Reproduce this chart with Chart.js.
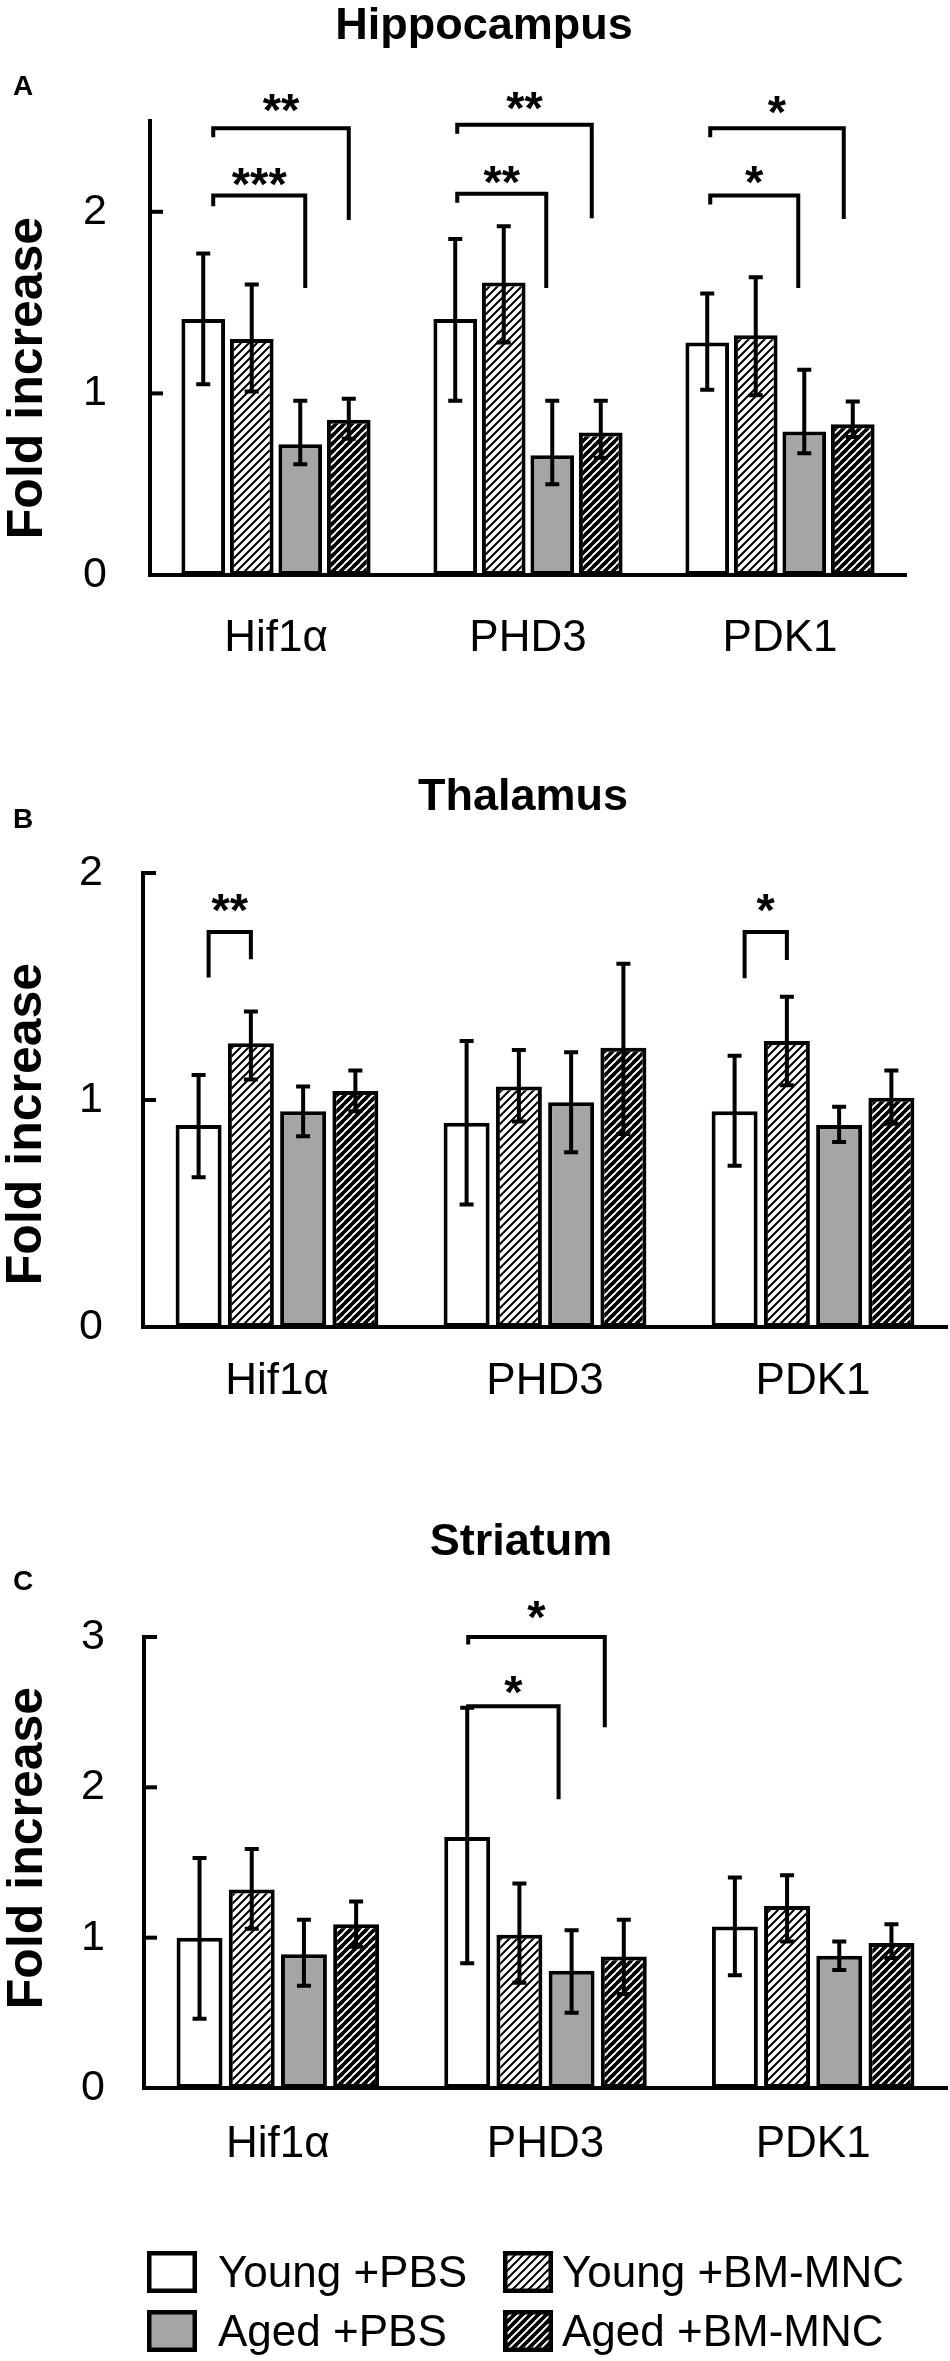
<!DOCTYPE html>
<html>
<head>
<meta charset="utf-8">
<script src="https://cdn.jsdelivr.net/npm/chart.js@4.4.1/dist/chart.umd.min.js"></script>
<style>
html,body{margin:0;padding:0;background:#fff;}
#page{position:relative;width:950px;height:2361px;overflow:hidden;font-family:"Liberation Sans",Arial,sans-serif;color:#000;background:#fff;}
#page canvas.panel{position:absolute;left:0;top:0;}
.txt{position:absolute;white-space:nowrap;line-height:1;}
.sw{position:absolute;}
</style>
</head>
<body>
<div id="page">
  <canvas class="panel" id="cA" width="950" height="2361"></canvas>
  <canvas class="panel" id="cB" width="950" height="2361"></canvas>
  <canvas class="panel" id="cC" width="950" height="2361"></canvas>
</div>
<script>
// ---------------- DATA ----------------
const categories = ['Hif1α', 'PHD3', 'PDK1'];
const groups = ['Young +PBS', 'Young +BM-MNC', 'Aged +PBS', 'Aged +BM-MNC'];

// Hippocampus (A)
const hipYoungPBS = [1.41, 1.41, 1.28];
const hipYoungBM  = [1.30, 1.61, 1.32];
const hipAgedPBS  = [0.72, 0.66, 0.79];
const hipAgedBM   = [0.855, 0.785, 0.83];
const hipYoungPBSErr = [[1.05, 1.77], [0.96, 1.85], [1.02, 1.55]];
const hipYoungBMErr  = [[1.01, 1.60], [1.28, 1.92], [0.99, 1.64]];
const hipAgedPBSErr  = [[0.61, 0.96], [0.50, 0.96], [0.67, 1.13]];
const hipAgedBMErr   = [[0.75, 0.97], [0.645, 0.96], [0.76, 0.955]];
const hipTicks = [0, 1, 2];
const hipMax = 2.5;

// Thalamus (B)
const thaYoungPBS = [0.89, 0.90, 0.95];
const thaYoungBM  = [1.25, 1.06, 1.26];
const thaAgedPBS  = [0.95, 0.99, 0.89];
const thaAgedBM   = [1.04, 1.23, 1.01];
const thaYoungPBSErr = [[0.66, 1.11], [0.54, 1.26], [0.71, 1.195]];
const thaYoungBMErr  = [[1.09, 1.39], [0.905, 1.22], [1.065, 1.455]];
const thaAgedPBSErr  = [[0.84, 1.06], [0.77, 1.21], [0.815, 0.97]];
const thaAgedBMErr   = [[0.95, 1.13], [0.85, 1.60], [0.895, 1.13]];
const thaTicks = [0, 1, 2];
const thaMax = 2;

// Striatum (C)
const strYoungPBS = [1.00, 1.67, 1.075];
const strYoungBM  = [1.32, 1.02, 1.21];
const strAgedPBS  = [0.89, 0.78, 0.88];
const strAgedBM   = [1.09, 0.875, 0.965];
const strYoungPBSErr = [[0.46, 1.53], [0.83, 2.53], [0.75, 1.40]];
const strYoungBMErr  = [[1.06, 1.59], [0.70, 1.36], [0.975, 1.415]];
const strAgedPBSErr  = [[0.68, 1.12], [0.50, 1.05], [0.785, 0.975]];
const strAgedBMErr   = [[0.94, 1.24], [0.625, 1.12], [0.865, 1.09]];
const strTicks = [0, 1, 2, 3];
const strMax = 3;

// significance brackets: category, bar from/to, heights (data units), label
const hipBrackets = [
  {cat:0, from:0, to:2, top:2.09, left:2.03, right:1.58, text:'***', textY:2.19, dxL:10, dxR:5},
  {cat:0, from:0, to:3, top:2.46, left:2.41, right:1.955, text:'**', textY:2.60, dxL:10, dxR:0},
  {cat:1, from:0, to:2, top:2.10, left:2.05, right:1.58, text:'**', textY:2.20, dxL:2, dxR:-6},
  {cat:1, from:0, to:3, top:2.48, left:2.43, right:1.965, text:'**', textY:2.61, dxL:2, dxR:-9},
  {cat:2, from:0, to:2, top:2.09, left:2.04, right:1.58, text:'*', textY:2.20, dxL:3, dxR:-6},
  {cat:2, from:0, to:3, top:2.46, left:2.41, right:1.96, text:'*', textY:2.59, dxL:3, dxR:-9}
];
const thaBrackets = [
  {cat:0, from:0, to:1, top:1.74, left:1.54, right:1.62, text:'**', textY:1.87, dxL:10, dxR:0},
  {cat:2, from:0, to:1, top:1.74, left:1.536, right:1.617, text:'*', textY:1.87, dxL:10, dxR:0}
];
const strBrackets = [
  {cat:1, from:0, to:2, top:2.54, left:2.52, right:1.92, text:'*', textY:2.68, dxL:1, dxR:-13},
  {cat:1, from:0, to:3, top:3.0, left:2.95, right:2.40, text:'*', textY:3.18, dxL:1, dxR:-19}
];

// ---------------- STYLE ----------------
const FONT = '"Liberation Sans", Arial, sans-serif';
Chart.defaults.font.family = FONT;
Chart.defaults.color = '#000';
const GRAY = '#a5a5a5';
const LINE = 4;

function hatchCanvas(lw) {
  const c = document.createElement('canvas');
  c.width = 8; c.height = 8;
  const g = c.getContext('2d');
  g.fillStyle = '#fff'; g.fillRect(0, 0, 8, 8);
  g.strokeStyle = '#000'; g.lineWidth = lw;
  g.beginPath();
  g.moveTo(-1, 1); g.lineTo(1, -1);
  g.moveTo(-1, 9); g.lineTo(9, -1);
  g.moveTo(7, 9); g.lineTo(9, 7);
  g.stroke();
  return c;
}
const LIGHT_LW = 2.0, DARK_LW = 3.8;
const pctx = document.createElement('canvas').getContext('2d');
const lightHatch = pctx.createPattern(hatchCanvas(LIGHT_LW), 'repeat');
const darkHatch = pctx.createPattern(hatchCanvas(DARK_LW), 'repeat');
const fills = ['#ffffff', lightHatch, GRAY, darkHatch];

function makeDecor(ticks, brackets) {
  return {
    id: 'decor',
    afterDatasetsDraw(chart) {
      const ctx = chart.ctx, y = chart.scales.y, area = chart.chartArea;
      ctx.save();
      ctx.strokeStyle = '#000'; ctx.fillStyle = '#000'; ctx.lineCap = 'butt';
      ctx.lineWidth = LINE;
      ticks.forEach(v => {
        if (v === 0) return;
        const py = y.getPixelForValue(v);
        ctx.beginPath(); ctx.moveTo(area.left, py); ctx.lineTo(area.left + 13, py); ctx.stroke();
      });
      chart.data.datasets.forEach((ds, di) => {
        const meta = chart.getDatasetMeta(di);
        meta.data.forEach((bar, j) => {
          const e = ds.errBars[j];
          const x = bar.x, yl = y.getPixelForValue(e[0]), yh = y.getPixelForValue(e[1]);
          ctx.lineWidth = LINE;
          ctx.beginPath(); ctx.moveTo(x, yl); ctx.lineTo(x, yh); ctx.stroke();
          ctx.beginPath();
          ctx.moveTo(x - 7, yl); ctx.lineTo(x + 7, yl);
          ctx.moveTo(x - 7, yh); ctx.lineTo(x + 7, yh);
          ctx.stroke();
        });
      });
      brackets.forEach(b => {
        const m0 = chart.getDatasetMeta(b.from).data[b.cat];
        const m1 = chart.getDatasetMeta(b.to).data[b.cat];
        const xl = m0.x + b.dxL, xr = m1.x + b.dxR;
        const yt = y.getPixelForValue(b.top);
        ctx.lineWidth = LINE; ctx.lineJoin = 'miter';
        ctx.beginPath();
        ctx.moveTo(xl, y.getPixelForValue(b.left));
        ctx.lineTo(xl, yt); ctx.lineTo(xr, yt);
        ctx.lineTo(xr, y.getPixelForValue(b.right));
        ctx.stroke();
        ctx.font = 'bold 47px ' + FONT;
        ctx.textAlign = 'center'; ctx.textBaseline = 'alphabetic';
        const m = ctx.measureText(b.text);
        const cy = y.getPixelForValue(b.textY);
        ctx.fillText(b.text, (xl + xr) / 2, cy + (m.actualBoundingBoxAscent - m.actualBoundingBoxDescent) / 2);
      });
      ctx.restore();
    }
  };
}

const X_AXIS_H = 100;
function makePanel(id, cfg) {
  const datasets = groups.map((name, i) => ({
    label: name,
    data: cfg.values[i],
    errBars: cfg.errs[i],
    backgroundColor: fills[i],
    borderColor: '#000',
    borderWidth: LINE,
    borderSkipped: false,
    categoryPercentage: cfg.cp,
    barPercentage: cfg.bp
  }));
  new Chart(document.getElementById(id), {
    type: 'bar',
    data: { labels: categories, datasets },
    options: {
      responsive: false, animation: false, devicePixelRatio: 1,
      events: [],
      layout: { padding: { top: cfg.top, bottom: 2361 - cfg.bottom - X_AXIS_H, left: 0, right: 950 - cfg.right } },
      scales: {
        x: {
          offset: true,
          grid: { display: false, drawTicks: false, drawOnChartArea: false },
          border: { display: true, color: '#000', width: LINE },
          ticks: { font: { size: 44 }, color: '#000', padding: cfg.xPad, maxRotation: 0 },
          afterFit(s) { s.height = X_AXIS_H; }
        },
        y: {
          min: 0, max: cfg.max,
          grid: { display: false, drawTicks: false, drawOnChartArea: false },
          border: { display: true, color: '#000', width: LINE },
          ticks: { font: { size: 43 }, color: '#000', padding: cfg.yPad, stepSize: 1 },
          afterBuildTicks(s) { s.ticks = cfg.ticks.map(v => ({ value: v })); },
          afterFit(s) { s.width = cfg.left; }
        }
      },
      plugins: { legend: { display: false }, tooltip: { enabled: false }, title: { display: false } }
    },
    plugins: [makeDecor(cfg.ticks, cfg.brackets)]
  });
}

makePanel('cA', {
  values: [hipYoungPBS, hipYoungBM, hipAgedPBS, hipAgedBM],
  errs: [hipYoungPBSErr, hipYoungBMErr, hipAgedPBSErr, hipAgedBMErr],
  ticks: hipTicks, max: hipMax, brackets: hipBrackets,
  left: 150, right: 906, top: 121, bottom: 575, xPad: 37, yPad: 43, cp: 0.77, bp: 0.9
});
makePanel('cB', {
  values: [thaYoungPBS, thaYoungBM, thaAgedPBS, thaAgedBM],
  errs: [thaYoungPBSErr, thaYoungBMErr, thaAgedPBSErr, thaAgedBMErr],
  ticks: thaTicks, max: thaMax, brackets: thaBrackets,
  left: 143, right: 947, top: 873, bottom: 1327, xPad: 28, yPad: 40, cp: 0.78, bp: 0.88
});
makePanel('cC', {
  values: [strYoungPBS, strYoungBM, strAgedPBS, strAgedBM],
  errs: [strYoungPBSErr, strYoungBMErr, strAgedPBSErr, strAgedBMErr],
  ticks: strTicks, max: strMax, brackets: strBrackets,
  left: 144, right: 947, top: 1637, bottom: 2088, xPad: 30, yPad: 39, cp: 0.78, bp: 0.88
});

// ---------------- TEXT (HTML) ----------------
const page = document.getElementById('page');
function addText(str, opt) {
  const d = document.createElement('div');
  d.className = 'txt';
  d.textContent = str;
  d.style.fontSize = opt.size + 'px';
  d.style.fontWeight = opt.bold ? 'bold' : 'normal';
  const top = opt.baseline - 0.8465 * opt.size;
  d.style.top = top + 'px';
  if (opt.center !== undefined) { d.style.left = opt.center + 'px'; d.style.transform = 'translateX(-50%)'; }
  else d.style.left = opt.left + 'px';
  page.appendChild(d);
  return d;
}
function addVertical(str, cx, cy, size) {
  const d = document.createElement('div');
  d.className = 'txt';
  d.textContent = str;
  d.style.fontSize = size + 'px';
  d.style.fontWeight = 'bold';
  d.style.left = cx + 'px';
  d.style.top = cy + 'px';
  d.style.transform = 'translate(-50%,-50%) rotate(-90deg)';
  page.appendChild(d);
}
addText('Hippocampus', {size: 45, bold: true, center: 484, baseline: 39});
addText('Thalamus', {size: 45, bold: true, center: 523, baseline: 810});
addText('Striatum', {size: 45, bold: true, center: 521, baseline: 1555});
addText('A', {size: 28, bold: true, left: 13, baseline: 96});
addText('B', {size: 28, bold: true, left: 13, baseline: 829});
addText('C', {size: 28, bold: true, left: 13, baseline: 1591});
addVertical('Fold increase', 25, 378, 50);
addVertical('Fold increase', 24, 1124, 50);
addVertical('Fold increase', 25, 1848, 50);

// legend
function swatch(i, x, yTop) {
  const c = document.createElement('canvas');
  c.width = 50; c.height = 42;
  c.className = 'sw';
  c.style.left = x + 'px'; c.style.top = yTop + 'px';
  const g = c.getContext('2d');
  let f = fills[i];
  if (i === 1) f = g.createPattern(hatchCanvas(LIGHT_LW), 'repeat');
  if (i === 3) f = g.createPattern(hatchCanvas(DARK_LW), 'repeat');
  g.fillStyle = f; g.fillRect(0, 0, 50, 42);
  g.strokeStyle = '#000'; g.lineWidth = 4.5;
  g.strokeRect(2.25, 2.25, 45.5, 37.5);
  page.appendChild(c);
}
const legendCols = [{box: 147, text: 218}, {box: 503, text: 562}];
const legendRows = [2272, 2331];
const legendOrder = [[0, 0, 0], [1, 0, 1], [2, 1, 0], [3, 1, 1]]; // series, row, col
legendOrder.forEach(([s, r, c]) => {
  swatch(s, legendCols[c].box, legendRows[r] - 21);
  addText(groups[s], {size: 44, bold: false, left: legendCols[c].text, baseline: legendRows[r] + 15.5});
});
</script>
</body>
</html>
